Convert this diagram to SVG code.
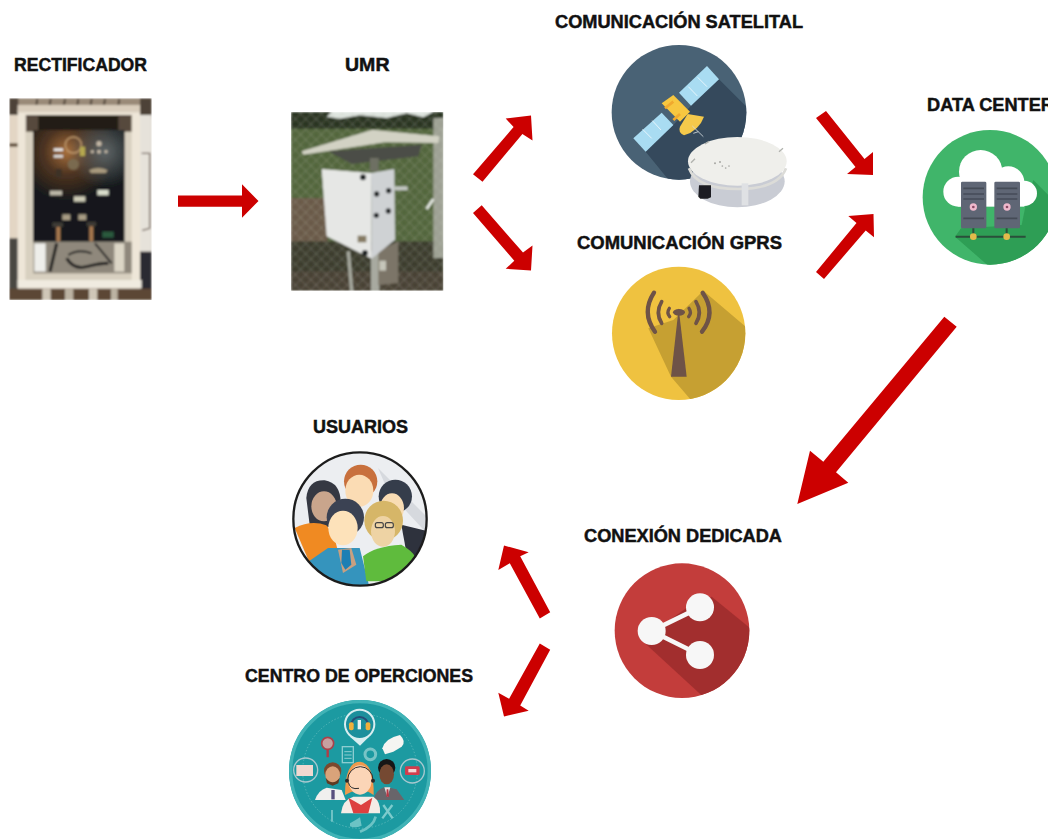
<svg xmlns="http://www.w3.org/2000/svg" width="1048" height="839" viewBox="0 0 1048 839">
<style>
.lbl{font-family:"Liberation Sans",Arial,sans-serif;font-weight:700;font-size:17.5px;fill:#111;stroke:#111;stroke-width:.45px}
.arrow{fill:#cc0000}
</style>
<defs>
<filter id="soft" x="-5%" y="-5%" width="110%" height="110%"><feGaussianBlur stdDeviation="3.2"/></filter>
<filter id="soft2" x="-5%" y="-5%" width="110%" height="110%"><feGaussianBlur stdDeviation="1.5"/></filter>
<radialGradient id="panelGlow" gradientUnits="userSpaceOnUse" cx="185" cy="170" r="150">
<stop offset="0" stop-color="#a8703c"/><stop offset=".45" stop-color="#4e3421"/><stop offset="1" stop-color="#14181a"/>
</radialGradient>
<radialGradient id="panelGlow2" gradientUnits="userSpaceOnUse" cx="300" cy="170" r="110">
<stop offset="0" stop-color="#5c6466"/><stop offset="1" stop-color="#5c6466" stop-opacity="0"/>
</radialGradient>
<pattern id="chain" width="22" height="22" patternUnits="userSpaceOnUse" patternTransform="rotate(45)">
<path d="M0 0H22M0 0V22" stroke="#c4cabb" stroke-width="2.5" stroke-opacity=".5" fill="none"/>
</pattern>
<clipPath id="cRect"><rect x="13" y="10" width="427" height="605"/></clipPath>
<clipPath id="cUmr"><rect x="18" y="12" width="457" height="536"/></clipPath>
<clipPath id="cSat"><circle cx="222" cy="217" r="202"/></clipPath>
<clipPath id="cGprs"><circle cx="416" cy="1000" r="200"/></clipPath>
<clipPath id="cDc"><circle cx="225" cy="217" r="202"/></clipPath>
<clipPath id="cShare"><circle cx="606" cy="332" r="202"/></clipPath>
<clipPath id="cUsers"><circle cx="216" cy="213" r="200"/></clipPath>
<clipPath id="cOps"><circle cx="225" cy="228" r="212"/></clipPath>
</defs>
<rect width="1048" height="839" fill="#fff"/>

<g id="connectors">
<polygon class="arrow" points="178,195.5 242,195.5 242,184.3 258.5,201 242,217.7 242,206.7 178,206.7"/>
<polygon class="arrow" points="473,174.2 513.6,127 505.7,118.5 531,115.5 532.5,140.5 522.4,134 482.5,181.8"/>
<polygon class="arrow" points="473,213 481.7,205.3 523,252.6 532.5,245.5 531,270.5 505.7,268.8 514.3,260.7"/>
<polygon class="arrow" points="826,111 864.5,159 873,152 873,175 847,174 855.5,167 816,118"/>
<polygon class="arrow" points="816,272 856.5,223 848.3,216 873.5,214 874,237.3 865.7,230.5 824,279"/>
<polygon class="arrow" points="944.3,316.7 956.7,326.7 836,472.3 848.3,482.7 797.3,504 810,450.7 823.3,461.7"/>
<polygon class="arrow" points="550.2,612.2 539.8,618.5 509.8,563.2 498.3,570 504,545.5 528.7,552.3 520.2,556.2"/>
<polygon class="arrow" points="539.8,643.5 550.2,649.8 520.2,705.5 528.7,710.7 504,716.5 498.3,692.7 509.1,698.8"/>
</g>

<g id="rectificador">
<text class="lbl" x="14" y="70.5" textLength="133" lengthAdjust="spacingAndGlyphs">RECTIFICADOR</text>
<g transform="translate(5 95) scale(.33333)">
<g clip-path="url(#cRect)"><g filter="url(#soft)">
<rect x="13" y="10" width="427" height="605" fill="#b9ad9f"/>
<rect x="13" y="10" width="427" height="45" fill="#9a8a78"/>
<path d="M13 10H40V60H13ZM405 10H440V70H405Z" fill="#4e4339"/>
<path d="M97 12l-5 32M137 12l-5 32M180 12l-5 32M220 12l-5 32M260 12l-5 32M300 12l-5 32M343 12l-5 32" stroke="#3d3228" stroke-width="5"/>
<rect x="13" y="60" width="27" height="370" fill="#e3d6c4"/>
<rect x="13" y="145" width="27" height="10" fill="#5c4a36"/>
<rect x="405" y="60" width="35" height="410" fill="#e6e2da"/>
<path d="M410 175h24v225l-22 6" fill="none" stroke="#6b5d52" stroke-width="4"/>
<rect x="13" y="430" width="27" height="185" fill="#4a4643"/>
<rect x="405" y="470" width="35" height="145" fill="#2a2a30"/>
<rect x="62" y="55" width="320" height="500" fill="#d8d0c0"/>
<rect x="62" y="55" width="320" height="55" fill="#564a3c"/>
<rect x="100" y="62" width="240" height="45" fill="#221b16"/>
<path d="M38 45H405V580H38ZM62 60V555H380V60Z" fill="#eee6d8" fill-rule="evenodd"/>
<rect x="38" y="30" width="367" height="22" fill="#d9cdbc"/>
<rect x="38" y="555" width="372" height="26" fill="#f0ebe0"/>
<rect x="85" y="105" width="273" height="335" fill="#14181a"/>
<rect x="85" y="105" width="273" height="335" fill="url(#panelGlow)"/>
<rect x="85" y="105" width="273" height="200" fill="url(#panelGlow2)"/>
<circle cx="205" cy="150" r="24" fill="none" stroke="#c09a6e" stroke-width="4"/>
<circle cx="205" cy="208" r="17" fill="#7a6a50"/>
<rect x="225" y="155" width="15" height="28" fill="#b5a850"/>
<rect x="146" y="160" width="28" height="8" fill="#eee"/><rect x="146" y="180" width="28" height="8" fill="#ddd"/>
<rect x="152" y="222" width="18" height="24" fill="#3e3026"/>
<g fill="#c4b8a6"><circle cx="282" cy="146" r="8"/><circle cx="262" cy="170" r="5"/><circle cx="303" cy="170" r="5"/><circle cx="282" cy="170" r="6"/></g>
<path d="M252 226q28-14 56 0l-6 8h-44Z" fill="#a89a7e"/>
<rect x="135" y="287" width="36" height="14" fill="#bcb8a8"/>
<rect x="207" y="304" width="34" height="16" fill="#cfcdb8"/>
<rect x="277" y="285" width="34" height="16" fill="#d8dccb"/>
<rect x="172" y="358" width="24" height="17" fill="#a89c84"/><rect x="220" y="358" width="24" height="17" fill="#a89c84"/>
<rect x="292" y="410" width="34" height="18" fill="#2b5a3e"/>
<rect x="154" y="390" width="12" height="50" fill="#a9794f"/><rect x="253" y="390" width="12" height="50" fill="#a9794f"/>
<rect x="142" y="382" width="32" height="14" fill="#3e3a34"/><rect x="245" y="380" width="28" height="14" fill="#3e3a34"/>
<rect x="85" y="440" width="295" height="95" fill="#8f887c"/>
<rect x="88" y="445" width="34" height="85" fill="#eeeeea"/>
<rect x="328" y="445" width="30" height="85" fill="#dcd6c6"/>
<path d="M155 445l-20 85M185 490q20 35 60 25t65-10" fill="none" stroke="#1a1a1a" stroke-width="9"/>
<path d="M190 480q30-20 70-5M270 445l50 60" fill="none" stroke="#222" stroke-width="6"/>
<rect x="13" y="581" width="427" height="34" fill="#5c4634"/>
<rect x="112" y="581" width="25" height="34" fill="#cfc7b8"/><rect x="180" y="581" width="25" height="34" fill="#bcb3a3"/><rect x="252" y="581" width="25" height="34" fill="#cfc7b8"/><rect x="318" y="581" width="20" height="34" fill="#bcb3a3"/>
</g></g>
</g>
</g>

<g id="umr">
<text class="lbl" x="345" y="70.5" textLength="44.5" lengthAdjust="spacingAndGlyphs">UMR</text>
<g transform="translate(285 108) scale(.33333)">
<g clip-path="url(#cUmr)"><g filter="url(#soft)">
<rect x="18" y="12" width="457" height="536" fill="#53663c"/>
<rect x="18" y="12" width="457" height="50" fill="#2c3624"/>
<path d="M85 12h55l-15 14 40 6 60-10 80 8 60-14 50 12 30-16Z" fill="#dfe5e0"/>
<rect x="18" y="270" width="110" height="140" fill="#6a5a48"/>
<rect x="18" y="400" width="457" height="148" fill="#3c3d2e"/>
<rect x="18" y="490" width="457" height="58" fill="#4a4236"/>
<rect x="445" y="30" width="30" height="420" fill="#9ea194"/>
<rect x="18" y="12" width="457" height="536" fill="url(#chain)"/>
<path d="M130 130L410 110L400 145L200 168Z" fill="#4c4d47"/>
<path d="M50 130L262 65L463 85L460 105L300 103L55 140Z" fill="#d2d2c4"/>
<rect x="255" y="150" width="26" height="40" fill="#6e7064"/>
<path d="M258 430h25v118h-25ZM185 430l10 118h10l-10-118Z" fill="#a8aaa0"/>
<path d="M280 428L340 400V525L280 532Z" fill="#7b7467"/>
<rect x="283" y="458" width="20" height="30" fill="#c6c6ba"/>
<path d="M328 235h40v12h-40Z" fill="#c4c8c4"/>
<path d="M425 303l20-30" stroke="#e6e9e4" stroke-width="8"/>
<path d="M110 183L258 195L260 452L125 385Z" fill="#e6e7e5"/>
<path d="M258 195L328 183L330 395L260 452Z" fill="#cfd2d4"/>
<rect x="218" y="383" width="26" height="20" fill="#857a62"/>
<g fill="#1f2224"><circle cx="234" cy="208" r="9"/><circle cx="275" cy="258" r="8"/><circle cx="311" cy="248" r="8"/><circle cx="274" cy="322" r="8"/><circle cx="310" cy="309" r="8"/><circle cx="240" cy="435" r="9"/></g>
</g></g>
</g>
</g>

<g id="satelital">
<text class="lbl" x="555" y="28" textLength="248" lengthAdjust="spacingAndGlyphs">COMUNICACIÓN SATELITAL</text>
<g transform="translate(605 40) scale(.33333)">
<g filter="url(#soft2)">
<circle cx="222" cy="217" r="202" fill="#4a6274"/>
<g clip-path="url(#cSat)"><polygon points="342,118 500,275 500,480 240,480 122,335 205,255 258,197" fill="#34495c"/></g>
<polygon points="222,158 306,78 342,118 258,197" fill="#a9dcf2"/>
<polygon points="85,295 170,218 205,255 122,335" fill="#a9dcf2"/>
<path d="M250 140L277 168M278 112L306 140M113 268L140 295M142 242L168 270" stroke="#e6f5fb" stroke-width="3"/>
<polygon points="170,190 205,165 255,215 225,245" fill="#f7c73f"/>
<path d="M180 205l25 -20M205 240l20-18" stroke="#f0a92e" stroke-width="8"/>
<path d="M248 222L297 230Q282 272 237 286Q218 276 225 260Z" fill="#f5c94b"/>
<path d="M262 258L295 290M280 275l-15 5" stroke="#d8dde0" stroke-width="2.5" fill="none"/>
<ellipse cx="397" cy="424" rx="142" ry="78" fill="#c9ccd4"/>
<ellipse cx="397" cy="364" rx="148" ry="73" fill="#efefeb"/>
<path d="M252 385Q275 447 397 447Q520 447 543 385" fill="none" stroke="#dcdcd8" stroke-width="8"/>
<path d="M410 430h20v66h-20Z" fill="#dfe1e4"/>
<path d="M258 368l12-12M522 335l12-10M300 312l12-8" stroke="#b0b2ad" stroke-width="4"/>
<path d="M282 436h36v36l-10 4h-22l-6-6Z" fill="#1e1f20"/>
<g fill="#a8a8a4"><circle cx="372" cy="378" r="2.5"/><circle cx="362" cy="384" r="2.5"/><circle cx="352" cy="378" r="2.5"/><circle cx="345" cy="366" r="3"/><circle cx="330" cy="370" r="3"/></g>
</g>
</g>
</g>

<g id="gprs">
<text class="lbl" x="577" y="249" textLength="205" lengthAdjust="spacingAndGlyphs">COMUNICACIÓN GPRS</text>
<g transform="translate(540 0) scale(.33333)">
<g filter="url(#soft2)">
<circle cx="416" cy="1000" r="200" fill="#efc23f"/>
<g clip-path="url(#cGprs)"><polygon points="490,872 640,1000 640,1220 470,1220 393,1130 325,985 400,960" fill="#c6a033"/></g>
<polygon points="416,925 393,1130 440,1130" fill="#6e5246"/>
<ellipse cx="417" cy="937" rx="18" ry="10" fill="#6e5246"/>
<g fill="none" stroke="#6e5246" stroke-linecap="round">
<path d="M388 925Q379 938 389 950M447 925Q456 938 446 950" stroke-width="10"/>
<path d="M365 905Q345 938 365 970M468 905Q488 938 468 970" stroke-width="11"/>
<path d="M342 878Q303 938 345 995M488 878Q530 938 486 995" stroke-width="13"/>
</g>
</g>
</g>
</g>

<g id="data-center">
<text class="lbl" x="927" y="111" textLength="127" lengthAdjust="spacingAndGlyphs">DATA CENTER</text>
<g transform="translate(915 125) scale(.33333)">
<g filter="url(#soft2)">
<circle cx="225" cy="217" r="202" fill="#40b56a"/>
<g clip-path="url(#cDc)"><polygon points="355,165 460,270 460,440 240,440 120,335 138,310 320,300 330,250" fill="#2e9e55"/></g>
<g fill="#fff"><circle cx="197" cy="140" r="65"/><circle cx="130" cy="200" r="45"/><circle cx="280" cy="172" r="48"/><circle cx="328" cy="205" r="38"/><rect x="130" y="180" width="198" height="65"/></g>
<g fill="#5f6674"><rect x="138" y="170" width="76" height="140" rx="4"/><rect x="238" y="170" width="77" height="140" rx="4"/></g>
<path d="M145 190h62M145 207h62M145 222h62M245 190h62M245 207h62M245 222h62M145 280h62M245 280h62" stroke="#454b57" stroke-width="5"/>
<g fill="#efb8cc"><circle cx="175" cy="246" r="11"/><circle cx="276" cy="246" r="11"/></g>
<g fill="#8a4a64"><circle cx="175" cy="246" r="4"/><circle cx="276" cy="246" r="4"/></g>
<path d="M122 335H332M175 310V335M275 310V335" stroke="#2c4f3a" stroke-width="6"/>
<g fill="#e3bb4c"><circle cx="175" cy="335" r="10"/><circle cx="275" cy="335" r="10"/></g>
</g>
</g>
</g>

<g id="conexion-dedicada">
<text class="lbl" x="584" y="542" textLength="198" lengthAdjust="spacingAndGlyphs">CONEXIÓN DEDICADA</text>
<g transform="translate(480 520) scale(.33333)">
<g filter="url(#soft2)">
<circle cx="606" cy="332" r="202" fill="#c33c3b"/>
<g clip-path="url(#cShare)"><polygon points="695,230 830,340 830,560 680,540 490,365 540,320 625,260" fill="#a22f2e"/></g>
<path d="M660 262L515 333L660 405" fill="none" stroke="#f7f7f7" stroke-width="14"/>
<g fill="#f7f7f7"><circle cx="660" cy="262" r="42"/><circle cx="515" cy="333" r="42"/><circle cx="660" cy="405" r="42"/></g>
</g>
</g>
</g>

<g id="usuarios">
<text class="lbl" x="313" y="433" textLength="95" lengthAdjust="spacingAndGlyphs">USUARIOS</text>
<g transform="translate(288 448) scale(.33333)">
<g filter="url(#soft2)">
<g clip-path="url(#cUsers)">
<circle cx="216" cy="213" r="200" fill="#eceef1"/>
<path d="M270 60L420 210V260L300 130Z" fill="#d6d9de"/>
<path d="M340 230L420 250V340L360 340Z" fill="#2d303c"/>
<circle cx="322" cy="145" r="50" fill="#363d4c"/>
<ellipse cx="312" cy="180" rx="36" ry="44" fill="#f8dcb4"/>
<circle cx="218" cy="100" r="50" fill="#c8703c"/>
<ellipse cx="214" cy="128" rx="42" ry="48" fill="#fbdcb4"/>
<path d="M55 150Q60 95 110 97Q160 105 158 170L150 240L65 230Z" fill="#343843"/>
<ellipse cx="108" cy="175" rx="38" ry="45" fill="#c9a58c"/>
<path d="M20 240Q70 215 115 232Q140 260 150 310L65 345Z" fill="#f08a24"/>
<path d="M55 345L120 300L215 300L245 420H60Z" fill="#3694bd"/>
<circle cx="172" cy="208" r="56" fill="#3b4353"/>
<ellipse cx="165" cy="240" rx="44" ry="52" fill="#fde2ba"/>
<path d="M150 305L190 300L205 350L165 375Z" fill="#c8a080"/>
<path d="M162 305H185L190 350L172 365L160 345Z" fill="#1e7fb4"/>
<path d="M225 325Q260 295 340 290Q375 310 380 325L340 400H235Z" fill="#5fbb3c"/>
<ellipse cx="287" cy="218" rx="58" ry="60" fill="#d6b667"/>
<ellipse cx="285" cy="250" rx="36" ry="46" fill="#eed3a4"/>
<g fill="none" stroke="#444" stroke-width="3.5"><rect x="262" y="224" width="24" height="15" rx="6"/><rect x="292" y="224" width="24" height="15" rx="6"/></g>
</g>
<circle cx="216" cy="213" r="200" fill="none" stroke="#1e1e1e" stroke-width="7"/>
</g>
</g>
</g>

<g id="centro-operaciones">
<text class="lbl" x="245" y="682" textLength="228" lengthAdjust="spacingAndGlyphs">CENTRO DE OPERCIONES</text>
<g transform="translate(285 695) scale(.33333)">
<g filter="url(#soft2)">
<circle cx="225" cy="228" r="213" fill="#1f9aa1"/>
<circle cx="225" cy="228" r="208" fill="none" stroke="#40b3b6" stroke-width="10"/>
<g clip-path="url(#cOps)">
<circle cx="225" cy="228" r="172" fill="none" stroke="#6cc5c5" stroke-width="2" stroke-dasharray="4 6"/>
<path d="M195 125L225 152L252 125Z" fill="#d8eef0"/>
<circle cx="224" cy="88" r="44" fill="#1f8f9c" stroke="#d8eef0" stroke-width="6"/>
<path d="M198 92a26 26 0 0 1 52 0" fill="none" stroke="#274d77" stroke-width="6"/>
<rect x="192" y="82" width="14" height="24" rx="6" fill="#f0b03a"/><rect x="242" y="82" width="14" height="24" rx="6" fill="#f0b03a"/>
<rect x="218" y="75" width="10" height="28" fill="#e8f4f4"/>
<circle cx="128" cy="145" r="18" fill="#c7a0a0" stroke="#a9434b" stroke-width="5"/>
<path d="M128 163V187" stroke="#b33a44" stroke-width="7"/>
<rect x="172" y="155" width="33" height="48" fill="none" stroke="#8ccdd0" stroke-width="4"/>
<path d="M178 170h22M178 180h22M178 190h22" stroke="#8ccdd0" stroke-width="3"/>
<circle cx="256" cy="178" r="16" fill="none" stroke="#78c4c6" stroke-width="9"/>
<path d="M292 160Q300 130 345 120Q365 140 350 155L325 170L300 178Z" fill="#f5f5f2"/>
<circle cx="62" cy="225" r="36" fill="none" stroke="#a7c8cf" stroke-width="4"/>
<rect x="34" y="210" width="50" height="33" fill="#f0d8d0"/>
<circle cx="382" cy="228" r="36" fill="none" stroke="#a7c8cf" stroke-width="4"/>
<rect x="360" y="214" width="44" height="26" rx="4" fill="#d23e4e"/>
<rect x="370" y="222" width="24" height="10" fill="#f3d6d6"/>
<path d="M90 315Q100 285 125 278L170 285L182 315Z" fill="#f0f0ee"/>
<rect x="139" y="285" width="10" height="28" fill="#584f7e"/>
<circle cx="143" cy="228" r="26" fill="#7a4a2e"/>
<ellipse cx="143" cy="240" rx="22" ry="26" fill="#d9a37a"/>
<path d="M122 248Q143 275 164 248L160 265L143 272L126 265Z" fill="#5e3a24"/>
<path d="M264 315Q272 285 300 275L335 283L358 315Z" fill="#67656b"/>
<path d="M298 277h18l-9 30Z" fill="#e3e3e0"/><path d="M305 283h5l2 22h-8Z" fill="#b93644"/>
<circle cx="305" cy="218" r="26" fill="#171717"/>
<ellipse cx="305" cy="238" rx="22" ry="30" fill="#754a30"/>
<path d="M168 355Q172 315 205 305L265 305Q288 320 285 355Z" fill="#f5ece6"/>
<path d="M190 308L205 355H250L262 308L228 330Z" fill="#dd4141"/>
<path d="M180 300Q180 200 225 200Q268 205 266 300L250 290H200Z" fill="#ef9a4e"/>
<ellipse cx="225" cy="255" rx="35" ry="44" fill="#fbd5b7"/>
<path d="M188 255a38 40 0 0 1 76 0" fill="none" stroke="#2e2a2c" stroke-width="3"/>
<circle cx="186" cy="257" r="6" fill="#2a2a2a"/><circle cx="264" cy="257" r="6" fill="#2a2a2a"/>
<path d="M190 262Q195 285 222 280" fill="none" stroke="#2a2a2a" stroke-width="3"/>
<path d="M195 385q15-8 30-18l5 25q-20 8-35 2Z" fill="#6cc3c5"/>
<path d="M225 410Q265 395 272 365" fill="none" stroke="#6cc3c5" stroke-width="8"/>
<path d="M292 370l30-40M295 330l28 40" stroke="#7dcbcc" stroke-width="7"/>
<path d="M141 345v35" stroke="#7dcbcc" stroke-width="5"/>
</g>
</g>
</g>
</g>
</svg>
